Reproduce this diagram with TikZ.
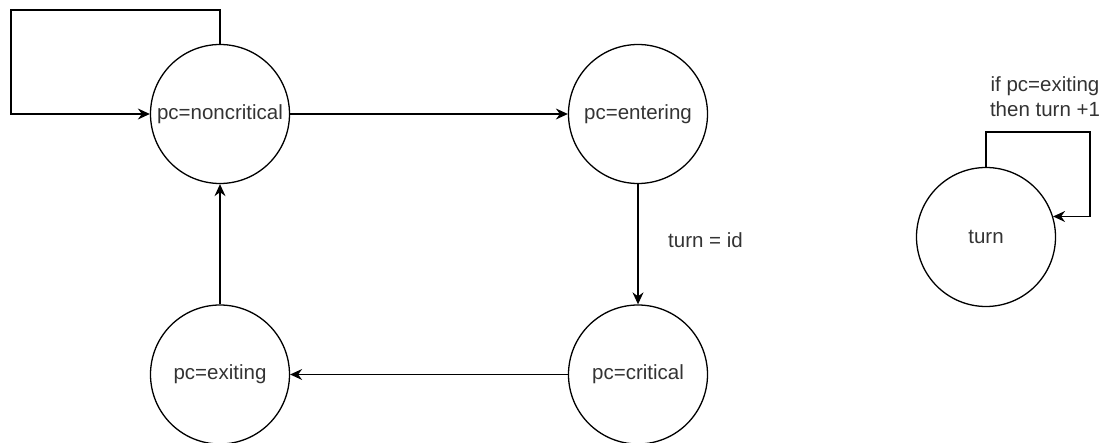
\documentclass[tikz,border=0pt]{standalone}
\usepackage{fontspec}
\setmainfont{Liberation Sans}
\usetikzlibrary{arrows.meta}
\begin{document}
\begin{tikzpicture}[x=1pt,y=1pt,
  state/.style={draw=black,circle,line width=1.3pt,minimum size=139pt,inner sep=0pt,text=black!80,
    font=\fontsize{20.5}{25}\selectfont},
  arr/.style={draw=black,line width=1.3pt,-{Stealth[length=12pt,width=11pt,inset=4pt]}},
  lbl/.style={text=black!80,font=\fontsize{20.5}{25}\selectfont,align=center,inner sep=0pt}]
  \useasboundingbox (0,0) rectangle (1106,-443);
  % process states
  \node[state] (nc) at (220,-114) {pc=noncritical};
  \node[state] (en) at (638,-114) {pc=entering};
  \node[state] (cr) at (638,-374.5) {pc=critical};
  \node[state] (ex) at (220,-374.5) {pc=exiting};
  % shared variable
  \node[state] (tu) at (986,-237) {turn};
  % transitions between states
  \draw[arr] (nc.east) -- (en.west);
  \draw[arr] (en.south) -- (cr.north);
  \draw[arr] (cr.west) -- (ex.east);
  \draw[arr] (ex.north) -- (nc.south);
  \node[lbl,anchor=west] (tid) at (668,-240) {turn = id};
  % self loop on noncritical
  \coordinate (ncl) at (11,-10);
  \draw[arr] (nc.north) |- (ncl) |- (nc.west);
  % self loop on turn
  \coordinate (tul) at (1090,-132);
  \draw[arr] (tu.north) |- (tul) |- (tu.17.6);
  \node[lbl] (tinc) at (1045,-97) {if pc=exiting\\then turn +1};
\end{tikzpicture}
\end{document}
